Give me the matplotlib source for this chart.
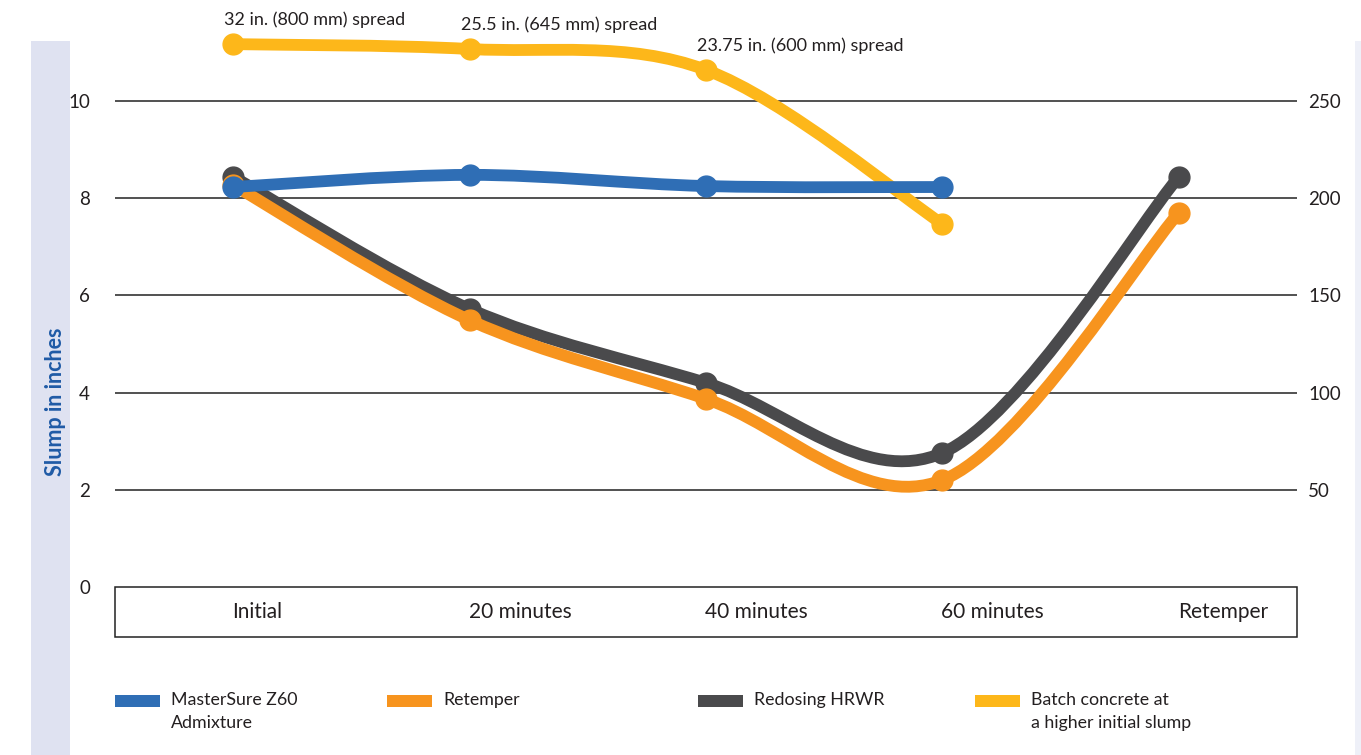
import matplotlib
matplotlib.use('Agg')
import matplotlib.pyplot as plt
from matplotlib.path import Path
from matplotlib.patches import PathPatch, Rectangle
import numpy as np

plt.rcParams['font.family'] = ['Lato', 'DejaVu Sans']

categories = ['Initial', '20 minutes', '40 minutes', '60 minutes', 'Retemper']
mastersure = [8.23, 8.48, 8.25, 8.23]
retemper = [8.27, 5.49, 3.87, 2.20, 7.70]
redosing = [8.44, 5.72, 4.20, 2.76, 8.44]
batch = [11.17, 11.07, 10.64, 7.47]
spread_labels = ['32 in. (800 mm) spread', '25.5 in. (645 mm) spread', '23.75 in. (600 mm) spread']

BLUE, ORANGE, GRAY, YELLOW = '#2F6EB5', '#F7941E', '#4A4A4C', '#FDB71A'
TEXT = '#231F20'

W, H = 1361, 755
fig = plt.figure(figsize=(W / 100, H / 100), dpi=100)

# lavender band behind the y label
fig.add_artist(Rectangle((31 / W, 0), 39 / W, (H - 41) / H, transform=fig.transFigure,
                         facecolor='#DFE2F1', edgecolor='none', zorder=0))
fig.add_artist(Rectangle((1355 / W, 0), 6 / W, (H - 41) / H, transform=fig.transFigure,
                         facecolor='#EEF0F8', edgecolor='none', zorder=0))

ax = fig.add_axes([115 / W, (H - 587) / H, (1297 - 115) / W, (587 - 10) / H])
ax.set_facecolor('none')
ax.set_xlim(-0.5, 4.5)
ax.set_ylim(0, 577 / 48.6)
for s in ax.spines.values():
    s.set_visible(False)
ax.set_xticks([])
ax.set_yticks([0, 2, 4, 6, 8, 10])
ax.tick_params(axis='y', length=0, pad=18, labelsize=13.5, labelcolor=TEXT)
for v in [2, 4, 6, 8, 10]:
    ax.axhline(v, color='#222222', linewidth=1.1, zorder=1)

ax2 = ax.twinx()
ax2.set_ylim(0, 577 / 48.6 * 25)
ax2.set_yticks([50, 100, 150, 200, 250])
ax2.tick_params(axis='y', length=0, pad=8, labelsize=13.5, labelcolor=TEXT)
for s in ax2.spines.values():
    s.set_visible(False)


def smooth_line(ax, ys, color, z):
    xs = np.arange(len(ys), dtype=float)
    pts = np.column_stack([xs, ys])
    ext = np.vstack([pts[0], pts, pts[-1]])
    verts = [pts[0]]
    codes = [Path.MOVETO]
    for i in range(len(pts) - 1):
        p0, p1, p2, p3 = ext[i], ext[i + 1], ext[i + 2], ext[i + 3]
        verts += [p1 + (p2 - p0) / 6, p2 - (p3 - p1) / 6, p2]
        codes += [Path.CURVE4] * 3
    ax.add_patch(PathPatch(Path(verts, codes), facecolor='none', edgecolor=color,
                           linewidth=8.5, capstyle='round', joinstyle='round', zorder=z))
    ax.plot(xs, ys, 'o', color=color, markersize=15, zorder=z + 0.1)


smooth_line(ax, batch, YELLOW, 2)
smooth_line(ax, redosing, GRAY, 3)
smooth_line(ax, retemper, ORANGE, 4)
smooth_line(ax, mastersure, BLUE, 5)

for i, lab in enumerate(spread_labels):
    ax.annotate(lab, (i, batch[i]), xytext=(-9, 24), textcoords='offset pixels',
                ha='left', va='center', fontsize=13, color=TEXT, annotation_clip=False)

# category box under the plot
fig.add_artist(Rectangle((115 / W, (H - 637) / H), (1297 - 115) / W, 50 / H,
                         transform=fig.transFigure, facecolor='white',
                         edgecolor='#222222', linewidth=1.1))
for i, c in enumerate(categories):
    fig.text(ax.transData.transform((i, 0))[0] / W - 1 / W, (H - 612) / H, c,
             ha='left', va='center', fontsize=15, color=TEXT)

fig.text(55 / W, (H - 402) / H, 'Slump in inches', rotation=90, ha='center', va='center',
         fontsize=15.5, fontweight='bold', color='#1F5AA6')

# legend
legend_items = [
    (115, BLUE, 'MasterSure Z60\nAdmixture'),
    (387, ORANGE, 'Retemper'),
    (698, GRAY, 'Redosing HRWR'),
    (975, YELLOW, 'Batch concrete at\na higher initial slump'),
]
for x0, col, lab in legend_items:
    fig.add_artist(Rectangle((x0 / W, (H - 707) / H), 45 / W, 12 / H, transform=fig.transFigure,
                             facecolor=col, edgecolor='none'))
    fig.text((x0 + 56) / W, (H - 692) / H, lab, ha='left', va='top', fontsize=12.8,
             color=TEXT, linespacing=1.55)

fig.savefig('out.png', dpi=100)
